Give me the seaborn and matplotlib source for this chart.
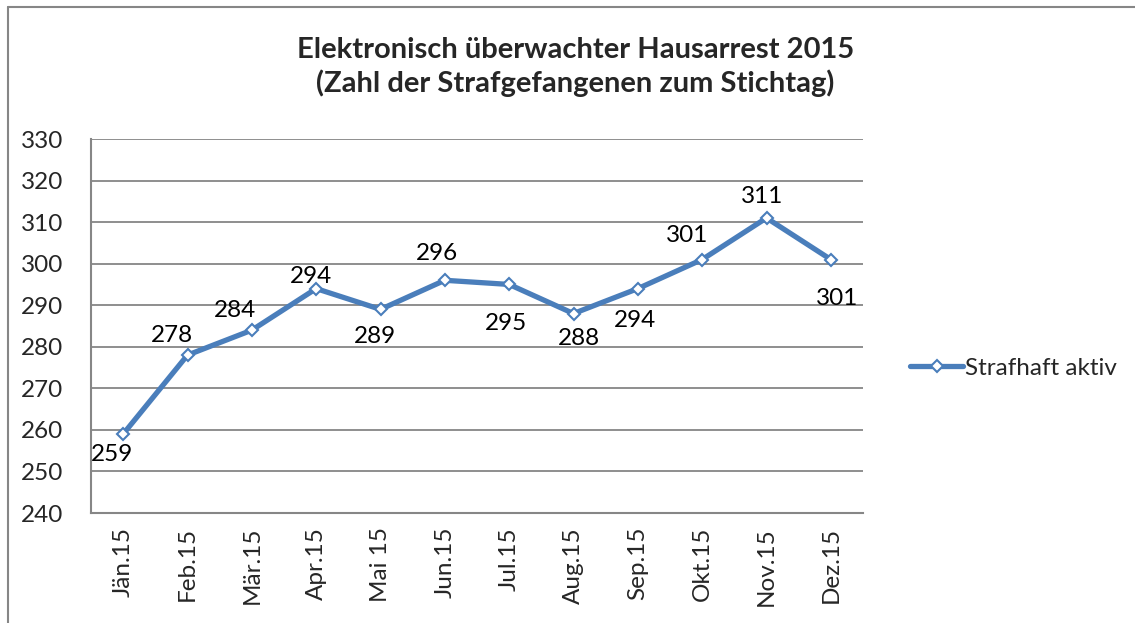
import matplotlib
matplotlib.use("Agg")
import matplotlib.pyplot as plt
from matplotlib.lines import Line2D
import seaborn as sns
import pandas as pd

# data
months = ["Jän.15", "Feb.15", "Mär.15", "Apr.15", "Mai 15", "Jun.15",
          "Jul.15", "Aug.15", "Sep.15", "Okt.15", "Nov.15", "Dez.15"]
values = [259, 278, 284, 294, 289, 296, 295, 288, 294, 301, 311, 301]
series_name = "Strafhaft aktiv"

# data label offsets from the marker in pixels (x right, y down), as in the original
label_dx = [-11, -16, -17, -5, -6, -8, -3, 5, -3, -15, -4, 6]
label_dy = [18, -22, -22, -14, 25, -29, 37, 23, 30, -26, -23, 37]

df = pd.DataFrame({"month": months, "value": values, "pos": range(len(months))})

sns.set_theme(style="white")
plt.rcParams["font.family"] = ["Lato", "DejaVu Sans"]

blue = "#4A7EBB"
grid_c = "#868686"
fs = 17.5

fig = plt.figure(figsize=(11.35, 6.23), dpi=100)
ax = fig.add_axes([91 / 1135, 1 - 513 / 623, (863 - 91) / 1135, (513 - 139) / 623])

sns.lineplot(data=df, x="pos", y="value", ax=ax, color=blue, linewidth=3.8,
             marker="D", markersize=6.5, markerfacecolor="white",
             markeredgecolor=blue, markeredgewidth=1.5)

ax.set_xlim(-0.5, len(months) - 0.5)
ax.set_ylim(240, 330)
ax.set_yticks(range(240, 331, 10))
ax.set_xticks(range(len(months)))
ax.set_xticklabels(months, rotation=90, fontsize=fs)
ax.tick_params(axis="y", labelsize=fs, pad=20, length=0)
ax.tick_params(axis="x", pad=10, length=0)
ax.set_xlabel("")
ax.set_ylabel("")

ax.yaxis.grid(True, color=grid_c, linewidth=1.3)
ax.set_axisbelow(True)
for side in ["top", "right"]:
    ax.spines[side].set_visible(False)
for side in ["left", "bottom"]:
    ax.spines[side].set_color(grid_c)
    ax.spines[side].set_linewidth(1.5)

for i, v in enumerate(values):
    ax.annotate(str(v), (i, v), xytext=(label_dx[i], -label_dy[i] - 2),
                textcoords="offset pixels", ha="center", va="center", fontsize=fs,
                color="black")

fig.text(0.507, 1 - 67 / 623, "Elektronisch überwachter Hausarrest 2015\n(Zahl der Strafgefangenen zum Stichtag)",
         ha="center", va="center", fontsize=21, fontweight="bold", linespacing=1.3)

handle = Line2D([], [], color=blue, linewidth=3.8, marker="D", markersize=6.5,
                markerfacecolor="white", markeredgecolor=blue, markeredgewidth=1.5)
fig.legend([handle], [series_name], loc="center left", bbox_to_anchor=(888 / 1135, 1 - 368 / 623),
           frameon=False, fontsize=fs, handlelength=2.2, handletextpad=0.05)

# outer chart border (top and left visible)
fig.add_artist(Line2D([8 / 1135, 1], [1 - 7 / 623, 1 - 7 / 623], color=grid_c, linewidth=1.5))
fig.add_artist(Line2D([8 / 1135, 8 / 1135], [0, 1 - 7 / 623], color=grid_c, linewidth=1.5))

fig.savefig("out.png", dpi=100, facecolor="white")
